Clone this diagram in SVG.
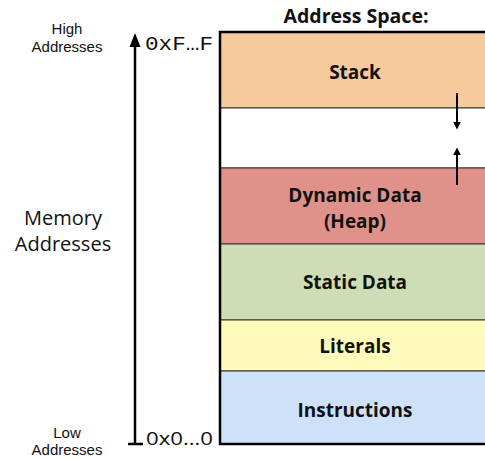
<svg xmlns="http://www.w3.org/2000/svg" width="485" height="458" viewBox="0 0 485 458">
<defs>
<style>
.seg{stroke:#333;stroke-width:1}
.lbl{font-family:"Open Sans","Liberation Sans",sans-serif;font-weight:bold;font-size:19px;text-anchor:middle;fill:#111}
.side{font-family:"Liberation Sans","Open Sans",sans-serif;font-size:15px;text-anchor:middle;fill:#111}
.big{font-family:"Open Sans","Liberation Sans",sans-serif;font-size:20px;text-anchor:middle;fill:#111}
.ax{stroke:#000;stroke-width:2.5;fill:none}
</style>
<marker id="ah" viewBox="0 0 10 10" refX="8" refY="5" markerWidth="4" markerHeight="4" orient="auto-start-reverse"><path d="M0,0 L10,5 L0,10 z" fill="#000"/></marker>
</defs>
<rect width="485" height="458" fill="#fff"/>
<text x="356" y="23" class="lbl" style="font-size:19.5px">Address Space:</text>
<g id="stack"><rect class="seg" x="220" y="32" width="270" height="76" fill="#F6CA9C"/><text class="lbl" x="355" y="79">Stack</text></g>
<g id="gap"><rect class="seg" x="220" y="108" width="270" height="60" fill="#fff"/></g>
<g id="heap"><rect class="seg" x="220" y="168" width="270" height="76" fill="#E0918A"/><text class="lbl" x="355" y="202">Dynamic Data</text><text class="lbl" x="355" y="228">(Heap)</text></g>
<g id="static"><rect class="seg" x="220" y="244" width="270" height="76" fill="#CEDDB6"/><text class="lbl" x="355" y="289">Static Data</text></g>
<g id="literals"><rect class="seg" x="220" y="320" width="270" height="51" fill="#FFFBBA"/><text class="lbl" x="355" y="353">Literals</text></g>
<g id="instructions"><rect class="seg" x="220" y="371" width="270" height="73" fill="#CDE2F8"/><text class="lbl" x="355" y="417">Instructions</text></g>
<rect x="220" y="32" width="270" height="412" fill="none" stroke="#000" stroke-width="2.5"/>
<g id="connectors">
<line class="ax" x1="135" y1="444" x2="135" y2="44"/>
<path d="M135,33 L140.5,47 L129.5,47 z" fill="#000"/>
<line class="ax" x1="128" y1="444" x2="143" y2="444"/>
<line x1="457" y1="93" x2="457" y2="128" stroke="#000" stroke-width="2" marker-end="url(#ah)"/>
<line x1="457" y1="185" x2="457" y2="149" stroke="#000" stroke-width="2" marker-end="url(#ah)"/>
</g>
<text x="145" y="50" font-family="Liberation Mono,monospace" font-size="20" fill="#111" textLength="68" lengthAdjust="spacingAndGlyphs">0xF…F</text>
<text x="146" y="445" font-family="Open Sans,Liberation Sans,sans-serif" font-size="19" fill="#111" textLength="67" lengthAdjust="spacingAndGlyphs">0x0…0</text>
<text class="side" x="67" y="34">High</text>
<text class="side" x="67" y="52">Addresses</text>
<text class="big" x="63" y="225">Memory</text>
<text class="big" x="63" y="251">Addresses</text>
<text class="side" x="67" y="438">Low</text>
<text class="side" x="67" y="455">Addresses</text>
</svg>
